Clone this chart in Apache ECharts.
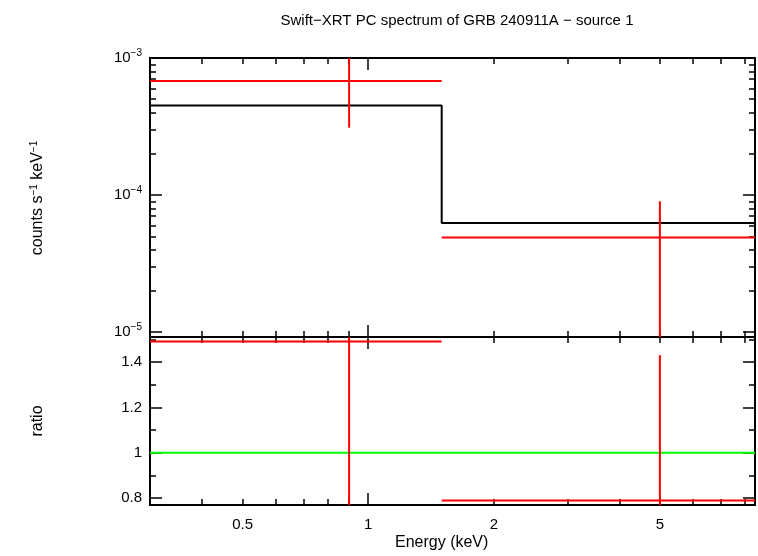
<!DOCTYPE html>
<html>
<head>
<meta charset="utf-8">
<script src="https://cdn.jsdelivr.net/npm/echarts@6/dist/echarts.min.js"></script>
<style>body{margin:0;background:#fff}#c{width:758px;height:556px}</style>
</head>
<body>
<div id="c"></div>
<script>
// bins: energy low/high/centre (keV)
const binLo = [0.3, 1.5]
const binHi = [1.5, 8.45]
const binMid = [0.9, 5]
// spectrum data (counts s^-1 keV^-1)
const rate = [6.8e-4, 4.9e-5]
const rateLo = [3.1e-4, 1e-6]
const rateHi = [1.2e-3, 9.0e-5]
const model = [4.5e-4, 6.25e-5]
// ratio data
const ratio = [1.49, 0.79]
const ratioLo = [0.5, 0.5]
const ratioHi = [2.0, 1.43]

const xMin = 0.3, xMax = 8.45
const xLabels = [0.5, 1, 2, 5]
const xMinor = [0.3, 0.4, 0.5, 0.6, 0.7, 0.8, 0.9, 2, 3, 4, 5, 6, 7, 8]
const yTopLabels = [-5, -4, -3]
const lg = Math.log10
const font = 'Liberation Sans'

const grids = [
    { left: 150, right: 3, top: 58, height: 279 },
    { left: 150, right: 3, top: 337, height: 168 }
]

// x axes: majors and minors, bottom and top of each grid (indices: grid*4 + ...)
const xAxis = []
;[0, 1].forEach(g => {
    ;['bottom', 'top'].forEach(pos => {
        ;[[[0], 12], [xMinor.map(lg), 6]].forEach(([vals, len], k) => {
            const showLab = g === 1 && pos === 'bottom' && k === 0
            xAxis.push({
                type: 'value', gridIndex: g, position: pos, min: lg(xMin), max: lg(xMax),
                axisLine: { show: k === 0, onZero: false, lineStyle: { color: '#000', width: 2 } },
                axisTick: { show: true, inside: true, length: len, customValues: vals, lineStyle: { color: '#000', width: 1.5 } },
                axisLabel: { show: showLab, customValues: xLabels.map(lg), formatter: v => String(+Math.pow(10, v).toFixed(2)), color: '#000', fontSize: 15, fontFamily: font, margin: 12 },
                splitLine: { show: false }
            })
        })
    })
})

const topMinor = []
for (let e = -5; e < -3; e++) for (let m = 2; m < 10; m++) topMinor.push(lg(m * Math.pow(10, e)))
// y axes order: top-left major, top-left minor, ratio-left major, ratio-left minor, then same on right
const yAxis = []
;['left', 'right'].forEach(pos => {
    ;[[yTopLabels, 12], [topMinor, 6]].forEach(([vals, len], k) => {
        yAxis.push({
            type: 'value', gridIndex: 0, position: pos, min: lg(0.92e-5), max: -3,
            axisLine: { show: k === 0, onZero: false, lineStyle: { color: '#000', width: 2 } },
            axisTick: { show: true, inside: true, length: len, customValues: vals, lineStyle: { color: '#000', width: 1.5 } },
            axisLabel: { show: pos === 'left' && k === 0, customValues: yTopLabels, formatter: v => '10{s|' + '\u2212' + (-v) + '}', rich: { s: { fontSize: 10, verticalAlign: 'top', padding: [0, 0, 10, 0], fontFamily: font } }, color: '#000', fontSize: 15, fontFamily: font, margin: 8 },
            splitLine: { show: false }
        })
    })
    ;[[[0.8, 1, 1.2, 1.4], 12], [[0.9, 1.1, 1.3, 1.5], 6]].forEach(([vals, len], k) => {
        yAxis.push({
            type: 'value', gridIndex: 1, position: pos, min: 0.77, max: 1.51,
            axisLine: { show: k === 0, onZero: false, lineStyle: { color: '#000', width: 2 } },
            axisTick: { show: true, inside: true, length: len, customValues: vals, lineStyle: { color: '#000', width: 1.5 } },
            axisLabel: { show: pos === 'left' && k === 0, customValues: vals, formatter: v => String(v), color: '#000', fontSize: 15, fontFamily: font, margin: 8 },
            splitLine: { show: false }
        })
    })
})

// error crosses drawn from the arrays through the axis scales
function crosses(xi, yi, ys, lo, hi) {
    return {
        type: 'custom', xAxisIndex: xi, yAxisIndex: yi, clip: true,
        data: binMid.map((m, i) => [lg(m), ys[i], lg(binLo[i]), lg(binHi[i]), lo[i], hi[i]]),
        renderItem: (params, api) => {
            const y = api.value(1)
            const a = api.coord([api.value(2), y]), b = api.coord([api.value(3), y])
            const c = api.coord([api.value(0), api.value(4)]), d = api.coord([api.value(0), api.value(5)])
            const st = { stroke: '#ff0000', lineWidth: 2 }
            return {
                type: 'group', children: [
                    { type: 'line', shape: { x1: a[0], y1: a[1], x2: b[0], y2: b[1] }, style: st },
                    { type: 'line', shape: { x1: c[0], y1: c[1], x2: d[0], y2: d[1] }, style: st }
                ]
            }
        },
        z: 3
    }
}

const modelLine = []
model.forEach((v, i) => { modelLine.push([lg(binLo[i]), lg(v)], [lg(binHi[i]), lg(v)]) })

const chart = echarts.init(document.getElementById('c'))
chart.setOption({
    animation: false,
    title: { text: 'Swift\u2212XRT PC spectrum of GRB 240911A \u2212 source 1', left: 452, top: 8, textAlign: 'center', textStyle: { fontSize: 15, fontWeight: 'normal', color: '#000', fontFamily: font } },
    grid: grids,
    xAxis: xAxis,
    yAxis: yAxis,
    graphic: [
        { type: 'text', left: 395, top: 535, style: { text: 'Energy (keV)', fontSize: 16, fill: '#000', fontFamily: font } },
        { type: 'text', x: 38, y: 198, rotation: Math.PI / 2, style: { text: 'counts s{s|\u22121} keV{s|\u22121}', rich: { s: { fontSize: 10, verticalAlign: 'top', padding: [0, 0, 8, 0] } }, fontSize: 16, fill: '#000', fontFamily: font, align: 'center', verticalAlign: 'middle' } },
        { type: 'text', x: 38, y: 421, rotation: Math.PI / 2, style: { text: 'ratio', fontSize: 16, fill: '#000', fontFamily: font, align: 'center', verticalAlign: 'middle' } }
    ],
    series: [
        { type: 'line', xAxisIndex: 0, yAxisIndex: 0, data: modelLine, symbol: 'none', lineStyle: { color: '#000', width: 2 }, z: 2 },
        crosses(0, 0, rate.map(lg), rateLo.map(lg), rateHi.map(lg)),
        { type: 'line', xAxisIndex: 4, yAxisIndex: 2, data: [[lg(xMin), 1], [lg(xMax), 1]], symbol: 'none', lineStyle: { color: '#00ff00', width: 2 }, z: 2 },
        crosses(4, 2, ratio, ratioLo, ratioHi)
    ]
})
</script>
</body>
</html>
